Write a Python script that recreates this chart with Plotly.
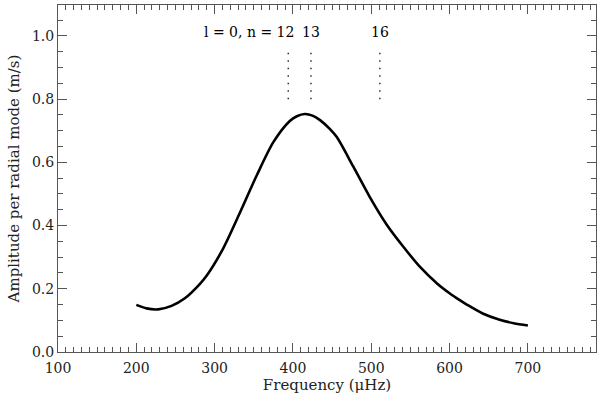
import plotly.graph_objects as go

# amplitude curve
freq = [200, 213, 228, 245, 262, 281, 290, 311, 332, 354, 375, 396, 405, 415,
        425, 435, 447, 456, 477, 498, 520, 541, 562, 584, 600, 613, 622, 643,
        664, 682, 700]
amp = [0.149, 0.138, 0.135, 0.146, 0.170, 0.215, 0.242, 0.328, 0.439, 0.560,
       0.664, 0.731, 0.746, 0.753, 0.748, 0.733, 0.706, 0.680, 0.587, 0.491,
       0.402, 0.333, 0.270, 0.217, 0.186, 0.164, 0.150, 0.121, 0.102, 0.091,
       0.084]

# radial modes marked at the top
mode_n = [12, 13, 16]
mode_freq = [394, 423, 511]
mark_lo, mark_hi = 0.80, 0.96

FONT = "DejaVu Serif"
AX = "#555555"
TXT = "#222222"

fig = go.Figure()

fig.add_trace(go.Scatter(
    x=freq, y=amp, mode="lines",
    line=dict(color="black", width=2.6, shape="spline", smoothing=0.8),
    showlegend=False,
))

# dotted markers for the mode frequencies
mx, my = [], []
for f in mode_freq:
    mx += [f, f, None]
    my += [mark_lo, mark_hi, None]
fig.add_trace(go.Scatter(
    x=mx, y=my, mode="lines",
    line=dict(color="#222222", width=1.4, dash="1.5px,6px"),
    showlegend=False,
))

# labels
fig.add_annotation(x=mode_freq[0] + 10, y=1.012, text=f"l = 0, n = {mode_n[0]}",
                   showarrow=False, xanchor="right", yanchor="middle",
                   font=dict(family=FONT, size=14, color="black"))
for n, f in zip(mode_n[1:], mode_freq[1:]):
    fig.add_annotation(x=f, y=1.012, text=str(n), showarrow=False,
                       xanchor="center", yanchor="middle",
                       font=dict(family=FONT, size=14, color="black"))

axis_common = dict(
    showline=True, linecolor=AX, linewidth=1, mirror="allticks",
    ticks="inside", tickcolor=AX, tickwidth=1, ticklen=9,
    showgrid=False, zeroline=False, automargin=False,
    tickfont=dict(family=FONT, size=14, color=TXT),
)

fig.update_xaxes(
    range=[100, 787], tick0=100, dtick=100, ticklabelstandoff=3,
    minor=dict(ticks="inside", dtick=10, ticklen=5, tickcolor=AX, showgrid=False),
    title=dict(text="Frequency (μHz)", standoff=2,
               font=dict(family=FONT, size=15, color=TXT)),
    **axis_common,
)
fig.update_yaxes(
    range=[0, 1.098], tick0=0, dtick=0.2, tickformat=".1f",
    minor=dict(ticks="inside", dtick=0.05, ticklen=5, tickcolor=AX, showgrid=False),
    title=dict(text="Amplitude per radial mode (m/s)", standoff=8,
               font=dict(family=FONT, size=15, color=TXT)),
    **axis_common,
)

fig.update_layout(
    width=600, height=398,
    margin=dict(l=58, r=4, t=5, b=46),
    plot_bgcolor="white", paper_bgcolor="white",
)

# page body has a default 8px margin; drop it so the figure sits at 0,0
fig.write_html("out.html", config={"displayModeBar": False},
               post_script="document.body.style.margin='0';")
